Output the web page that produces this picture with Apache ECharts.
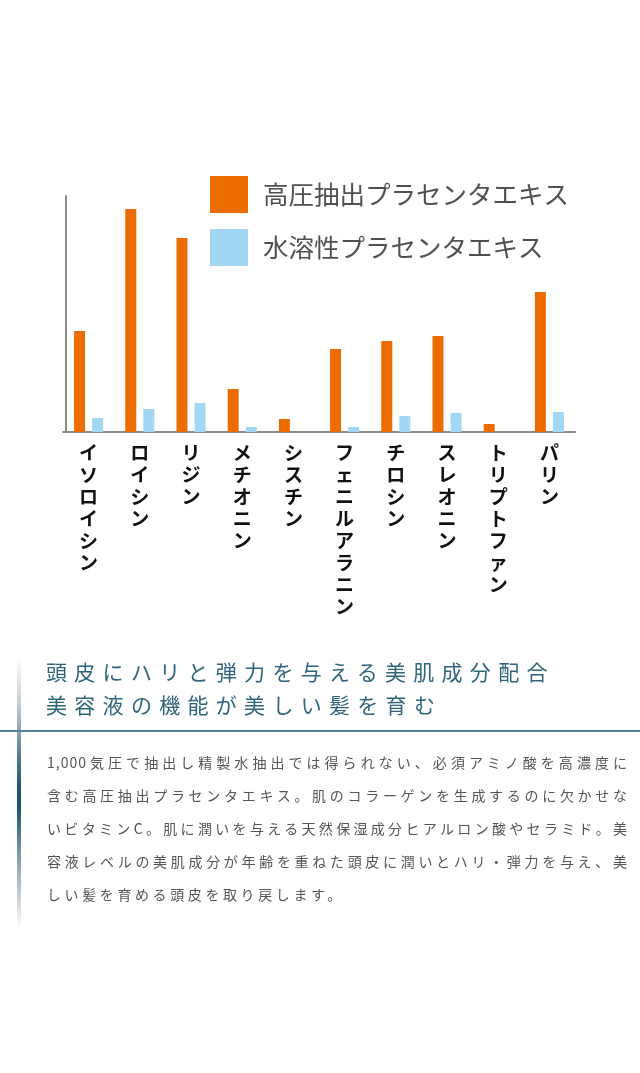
<!DOCTYPE html>
<html><head><meta charset="utf-8">
<script src="https://cdn.jsdelivr.net/npm/echarts@6/dist/echarts.min.js"></script>
<style>
html,body{margin:0;padding:0;background:#fff;width:640px;height:1073px;overflow:hidden;}
#chart{position:absolute;left:0;top:0;width:640px;height:1073px;}
.ov{position:absolute;font-family:"Noto Sans CJK JP",sans-serif;white-space:nowrap;}
.head{left:46px;font-size:21px;color:#2f657b;letter-spacing:7.3px;line-height:33px;}
.body{left:47px;font-size:14px;color:#555;line-height:33px;}
.just{width:581px;text-align:justify;text-align-last:justify;letter-spacing:1px;}
</style></head>
<body>
<div id="chart"></div>
<div class="ov" style="left:17px;top:655px;width:4px;height:275px;background:linear-gradient(to bottom,#ffffff 0%,#c5ced4 18%,#6f8fa0 32%,#1d5570 48%,#1d5570 56%,#7d98a8 72%,#c9d1d6 88%,#ffffff 100%);"></div>
<div class="ov" style="left:0;top:730px;width:640px;height:2px;background:#4f8297;"></div>
<div class="ov head" style="top:655px;">頭皮にハリと弾力を与える美肌成分配合</div>
<div class="ov head" style="top:688px;">美容液の機能が美しい髪を育む</div>
<div class="ov body just" style="top:746px;">1,000気圧で抽出し精製水抽出では得られない、必須アミノ酸を高濃度に</div>
<div class="ov body just" style="top:779px;">含む高圧抽出プラセンタエキス。肌のコラーゲンを生成するのに欠かせな</div>
<div class="ov body just" style="top:812px;">いビタミンC。肌に潤いを与える天然保湿成分ヒアルロン酸やセラミド。美</div>
<div class="ov body just" style="top:845px;">容液レベルの美肌成分が年齢を重ねた頭皮に潤いとハリ・弾力を与え、美</div>
<div class="ov body" style="top:878px;letter-spacing:3.6px;">しい髪を育める頭皮を取り戻します。</div>
<script>
var categories = ['イソロイシン','ロイシン','リジン','メチオニン','シスチン','フェニルアラニン','チロシン','スレオニン','トリプトファン','パリン'];
var seriesNames = ['高圧抽出プラセンタエキス','水溶性プラセンタエキス'];
var highPressure = [101, 223, 194, 43, 13, 83, 91, 96, 8, 140];
var waterSoluble = [14, 23, 29, 5, 0, 5, 16, 19, 0, 20];

var chart = echarts.init(document.getElementById('chart'));
chart.setOption({
  animation:false,
  textStyle:{fontFamily:'"Noto Sans CJK JP", sans-serif'},
  legend:{
    orient:'vertical', left:210, top:176, padding:0, itemWidth:38, itemHeight:37, itemGap:16,
    icon:'rect',
    textStyle:{fontSize:25.5, color:'#505050', padding:[0,0,0,10], fontFamily:'"Noto Sans CJK JP", sans-serif'},
    data:seriesNames
  },
  grid:{left:63, right:65, top:196, bottom:641},
  xAxis:{
    type:'category', data:categories,
    axisLine:{lineStyle:{color:'#8a8a8a', width:2}},
    axisTick:{show:false},
    axisLabel:{
      interval:0, margin:10, fontSize:19, lineHeight:22, color:'#111', fontWeight:'bold',
      fontFamily:'"Noto Sans CJK JP", sans-serif',
      formatter:function(v){return v.split('').join('\n');}
    }
  },
  yAxis:{
    type:'value', min:0, max:236, offset:-3,
    axisLine:{show:true, lineStyle:{color:'#8a8a8a', width:2}},
    axisTick:{show:false}, axisLabel:{show:false}, splitLine:{show:false}
  },
  series:[
    {name:seriesNames[0], type:'bar', data:highPressure, barWidth:11, barGap:'64%', itemStyle:{color:'#ED6C00'}},
    {name:seriesNames[1], type:'bar', data:waterSoluble, barWidth:11, itemStyle:{color:'#A2D7F3'}}
  ]
});
</script>
</body></html>
